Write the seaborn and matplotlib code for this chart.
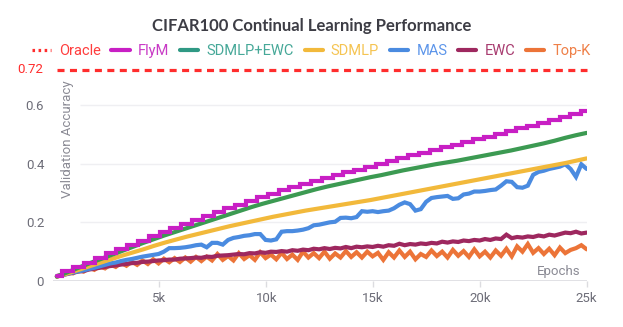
import numpy as np
import matplotlib
matplotlib.use("Agg")
import matplotlib.pyplot as plt
from matplotlib.lines import Line2D
import seaborn as sns

# accuracy curves (x = training epochs)
flym = [0.017, 0.033, 0.048, 0.063, 0.078, 0.095, 0.110, 0.124, 0.138, 0.152,
        0.166, 0.180, 0.194, 0.208, 0.222, 0.236, 0.248, 0.260, 0.274, 0.287,
        0.298, 0.309, 0.319, 0.330, 0.340, 0.350, 0.360, 0.370, 0.379, 0.388,
        0.398, 0.408, 0.418, 0.428, 0.437, 0.446, 0.456, 0.465, 0.474, 0.483,
        0.492, 0.501, 0.510, 0.520, 0.529, 0.539, 0.549, 0.558, 0.568, 0.578]

sdmlp_ewc = [0.015, 0.030, 0.045, 0.060, 0.074, 0.088, 0.102, 0.116, 0.130, 0.143,
             0.156, 0.168, 0.180, 0.192, 0.204, 0.216, 0.228, 0.240, 0.252, 0.263,
             0.273, 0.283, 0.293, 0.303, 0.313, 0.322, 0.330, 0.338, 0.346, 0.354,
             0.361, 0.369, 0.377, 0.384, 0.391, 0.398, 0.404, 0.410, 0.417, 0.424,
             0.431, 0.438, 0.445, 0.453, 0.461, 0.469, 0.478, 0.488, 0.497, 0.505]

sdmlp = [0.015, 0.026, 0.038, 0.050, 0.062, 0.074, 0.086, 0.097, 0.108, 0.120,
         0.131, 0.141, 0.151, 0.160, 0.169, 0.178, 0.187, 0.195, 0.203, 0.211,
         0.219, 0.226, 0.233, 0.240, 0.246, 0.252, 0.258, 0.264, 0.270, 0.276,
         0.283, 0.290, 0.297, 0.304, 0.311, 0.318, 0.325, 0.332, 0.339, 0.346,
         0.353, 0.360, 0.367, 0.374, 0.381, 0.388, 0.395, 0.402, 0.410, 0.418]

mas = [0.017, 0.020, 0.025, 0.029, 0.033, 0.036, 0.041, 0.045, 0.050, 0.055,
       0.060, 0.063, 0.068, 0.072, 0.075, 0.079, 0.083, 0.086, 0.089, 0.092,
       0.100, 0.112, 0.112, 0.113, 0.115, 0.118, 0.122, 0.124, 0.115, 0.130,
       0.130, 0.124, 0.140, 0.147, 0.150, 0.154, 0.156, 0.160, 0.160, 0.140,
       0.138, 0.142, 0.168, 0.170, 0.170, 0.172, 0.175, 0.180, 0.190, 0.192,
       0.196, 0.200, 0.202, 0.215, 0.216, 0.214, 0.218, 0.238, 0.236, 0.238,
       0.235, 0.238, 0.240, 0.248, 0.260, 0.268, 0.262, 0.240, 0.245, 0.270,
       0.283, 0.286, 0.288, 0.290, 0.280, 0.282, 0.295, 0.298, 0.305, 0.305,
       0.307, 0.310, 0.312, 0.325, 0.340, 0.338, 0.320, 0.318, 0.325, 0.362,
       0.372, 0.376, 0.382, 0.386, 0.390, 0.398, 0.382, 0.355, 0.398, 0.382]

ewc = [0.015, 0.020, 0.024, 0.028, 0.032, 0.034, 0.039, 0.042, 0.045, 0.048,
       0.051, 0.053, 0.056, 0.058, 0.061, 0.062, 0.065, 0.066, 0.068, 0.070,
       0.071, 0.073, 0.073, 0.076, 0.077, 0.078, 0.080, 0.079, 0.083, 0.082,
       0.086, 0.087, 0.088, 0.090, 0.092, 0.091, 0.095, 0.094, 0.098, 0.096,
       0.100, 0.099, 0.102, 0.100, 0.105, 0.103, 0.107, 0.105, 0.110, 0.108,
       0.112, 0.109, 0.113, 0.111, 0.116, 0.112, 0.117, 0.115, 0.118, 0.116,
       0.120, 0.117, 0.122, 0.120, 0.127, 0.122, 0.126, 0.124, 0.128, 0.126,
       0.130, 0.128, 0.134, 0.131, 0.135, 0.133, 0.138, 0.136, 0.140, 0.138,
       0.143, 0.140, 0.145, 0.143, 0.158, 0.146, 0.150, 0.148, 0.152, 0.150,
       0.155, 0.152, 0.158, 0.155, 0.160, 0.165, 0.163, 0.168, 0.162, 0.165]

topk = [0.017, 0.022, 0.030, 0.026, 0.038, 0.032, 0.045, 0.038, 0.050, 0.043,
        0.056, 0.048, 0.062, 0.052, 0.066, 0.055, 0.070, 0.058, 0.074, 0.060,
        0.076, 0.064, 0.078, 0.065, 0.080, 0.066, 0.082, 0.068, 0.083, 0.070,
        0.092, 0.072, 0.085, 0.070, 0.095, 0.075, 0.088, 0.072, 0.098, 0.078,
        0.090, 0.074, 0.096, 0.075, 0.090, 0.072, 0.100, 0.080, 0.095, 0.078,
        0.100, 0.076, 0.094, 0.080, 0.102, 0.082, 0.098, 0.080, 0.100, 0.084,
        0.096, 0.072, 0.098, 0.080, 0.104, 0.082, 0.100, 0.074, 0.092, 0.082,
        0.104, 0.085, 0.100, 0.080, 0.106, 0.086, 0.102, 0.082, 0.108, 0.084,
        0.100, 0.080, 0.104, 0.086, 0.110, 0.084, 0.118, 0.100, 0.126, 0.096,
        0.112, 0.092, 0.110, 0.088, 0.114, 0.095, 0.106, 0.112, 0.122, 0.108]

oracle = 0.72
first_epoch, last_epoch = 200, 25000

names = ["Oracle", "FlyM", "SDMLP+EWC", "SDMLP", "MAS", "EWC", "Top-K"]
line_colors = ["#ff2d2d", "#c81fc4", "#3c9a52", "#f2b93b", "#4a8be0", "#9e285f", "#ec7438"]
legend_colors = ["#ff2d2d", "#c81fc4", "#2f9984", "#f2b93b", "#4a8be0", "#9e285f", "#ec7438"]
text_colors = ["#ff3d3d", "#c93bc6", "#46a898", "#f5c452", "#5c95ea", "#a83c70", "#ef8048"]

yticks = [0, 0.2, 0.4, 0.6]
ytick_labels = ["0", "0.2", "0.4", "0.6"]
xticks = [5000, 10000, 15000, 20000, 25000]
xtick_labels = ["5k", "10k", "15k", "20k", "25k"]

sns.set_theme(style="white")
plt.rcParams["font.family"] = ["Roboto", "DejaVu Sans"]

fig = plt.figure(figsize=(6.23, 3.27), dpi=100)
ax = fig.add_axes([0.0844, 0.1407, 0.8573, 0.6547])
ax.set_xlim(0, 25000)
ax.set_ylim(0, 0.73)
for s in ax.spines.values():
    s.set_visible(False)

# light grid, starting to the right of the inner y label
ax.hlines(yticks[1:], 1280, 25000, colors="#efeff2", lw=1, zorder=0)
ax.axhline(0, color="#dcdce0", lw=1.2, zorder=0)

lw = 3.0
series = [
    (flym, 1, "steps-mid"),
    (sdmlp_ewc, 2, "default"),
    (sdmlp, 3, "default"),
    (mas, 4, "default"),
    (ewc, 5, "default"),
    (topk, 6, "default"),
]
# draw bottom series first so FlyM ends up on top
for vals, ci, ds in series[::-1]:
    x = np.linspace(first_epoch, last_epoch, len(vals))
    sns.lineplot(x=x, y=vals, ax=ax, color=line_colors[ci], lw=lw,
                 drawstyle=ds, solid_joinstyle="miter", legend=False)

ax.hlines(oracle, first_epoch, last_epoch, colors=line_colors[0], lw=2.3,
          linestyles=(0, (2.2, 1.7)), clip_on=False, zorder=5)
ax.annotate("0.72", xy=(0, oracle), xycoords=("axes fraction", "data"),
            xytext=(-7, 0), textcoords="offset points", ha="right", va="center",
            color=line_colors[0], fontsize=9.5)

ax.set_yticks(yticks)
ax.set_yticklabels(ytick_labels)
ax.set_xticks(xticks)
ax.set_xticklabels(xtick_labels)
ax.tick_params(axis="y", length=0, pad=6, labelsize=9.5, labelcolor="#6d6d78")
ax.tick_params(axis="x", length=4, width=1, color="#dcdce0", pad=4,
               labelsize=9.5, labelcolor="#6d6d78", bottom=True)
ax.set_xlabel("")
ax.set_ylabel("")

fig.text(61 / 623, 1.0 - 80 / 327, "Validation Accuracy",
         rotation=90, ha="left", va="top", fontsize=9.5, color="#8a8a94")
fig.text(580 / 623, 1 - 271 / 327, "Epochs",
         ha="right", va="center", fontsize=9.5, color="#8a8a94")

fig.text(0.5, 1 - 26 / 327, "CIFAR100 Continual Learning Performance",
         ha="center", va="center", fontsize=12, fontweight="bold",
         color="#3d3d45", family=["Lato", "DejaVu Sans"])

handles = [Line2D([], [], color=legend_colors[0], lw=2.3, ls=(0, (0.8, 1.1)))]
handles += [Line2D([], [], color=c, lw=3) for c in legend_colors[1:]]
leg = fig.legend(handles, names, loc="center", ncol=7,
                 bbox_to_anchor=(0.5, 1 - 50.7 / 327), frameon=False,
                 fontsize=10.5, handlelength=1.25, handletextpad=0.55,
                 columnspacing=0.75, borderaxespad=0, borderpad=0)
for t, c in zip(leg.get_texts(), text_colors):
    t.set_color(c)

fig.savefig("out.png", dpi=100)
plt.close(fig)
